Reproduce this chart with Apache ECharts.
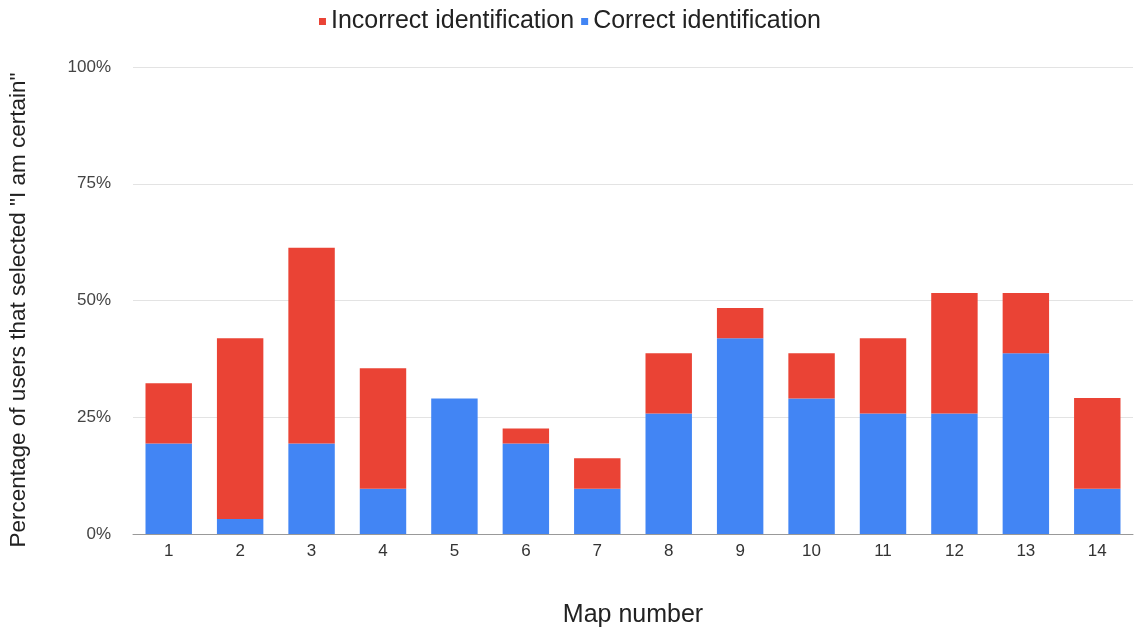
<!DOCTYPE html>
<html>
<head>
<meta charset="utf-8">
<script src="https://cdn.jsdelivr.net/npm/echarts@6/dist/echarts.min.js"></script>
<style>
  html, body { margin: 0; padding: 0; background: #fff; }
  #chart { width: 1140px; height: 630px; }
</style>
</head>
<body>
<div id="chart"></div>
<script>
// map numbers
const maps = ['1', '2', '3', '4', '5', '6', '7', '8', '9', '10', '11', '12', '13', '14']
// % of users that selected "I am certain", split by result
const correct = [19.4, 3.2, 19.4, 9.7, 29.0, 19.4, 9.7, 25.8, 41.9, 29.0, 25.8, 25.8, 38.7, 9.7]
const incorrect = [12.9, 38.7, 41.9, 25.8, 0, 3.2, 6.5, 12.9, 6.5, 9.7, 16.1, 25.8, 12.9, 19.4]
const yTicks = [0, 25, 50, 75, 100]

const font = '"Liberation Sans", Arial, sans-serif'
const chart = echarts.init(document.getElementById('chart'))

chart.setOption({
  animation: false,
  textStyle: { fontFamily: font },
  legend: {
    data: ['Incorrect identification', 'Correct identification'],
    top: 4,
    left: 'center',
    itemWidth: 7,
    itemHeight: 7,
    itemGap: 7,
    icon: 'rect',
    textStyle: { fontSize: 25, color: '#222', fontFamily: font },
  },
  grid: { left: 133, right: 7, top: 67, bottom: 96, outerBoundsMode: 'none' },
  graphic: [
    {
      type: 'text',
      x: 19,
      y: 310,
      rotation: Math.PI / 2,
      style: {
        text: 'Percentage of users that selected "I am certain"',
        font: `22.5px ${font}`,
        fill: '#222',
        align: 'center',
        verticalAlign: 'middle',
      },
    },
  ],
  xAxis: {
    type: 'category',
    data: maps,
    name: 'Map number',
    nameLocation: 'middle',
    nameGap: 69,
    nameTextStyle: { fontSize: 25, color: '#222', fontFamily: font },
    axisTick: { show: false },
    axisLine: { lineStyle: { color: '#999' } },
    axisLabel: { fontSize: 17, color: '#333', margin: 9 },
  },
  yAxis: {
    type: 'value',
    min: yTicks[0],
    max: yTicks[yTicks.length - 1],
    interval: 25,
    axisLine: { show: false },
    axisTick: { show: false },
    axisLabel: { fontSize: 17, color: '#444', margin: 22, formatter: (v) => `${v}%` },
    splitLine: { lineStyle: { color: '#e3e3e3' } },
  },
  series: [
    {
      name: 'Correct identification',
      type: 'bar',
      stack: 'total',
      barWidth: '65%',
      data: correct,
      itemStyle: { color: '#4285F4' },
    },
    {
      name: 'Incorrect identification',
      type: 'bar',
      stack: 'total',
      barWidth: '65%',
      data: incorrect,
      itemStyle: { color: '#EA4335' },
    },
  ],
})
</script>
</body>
</html>
